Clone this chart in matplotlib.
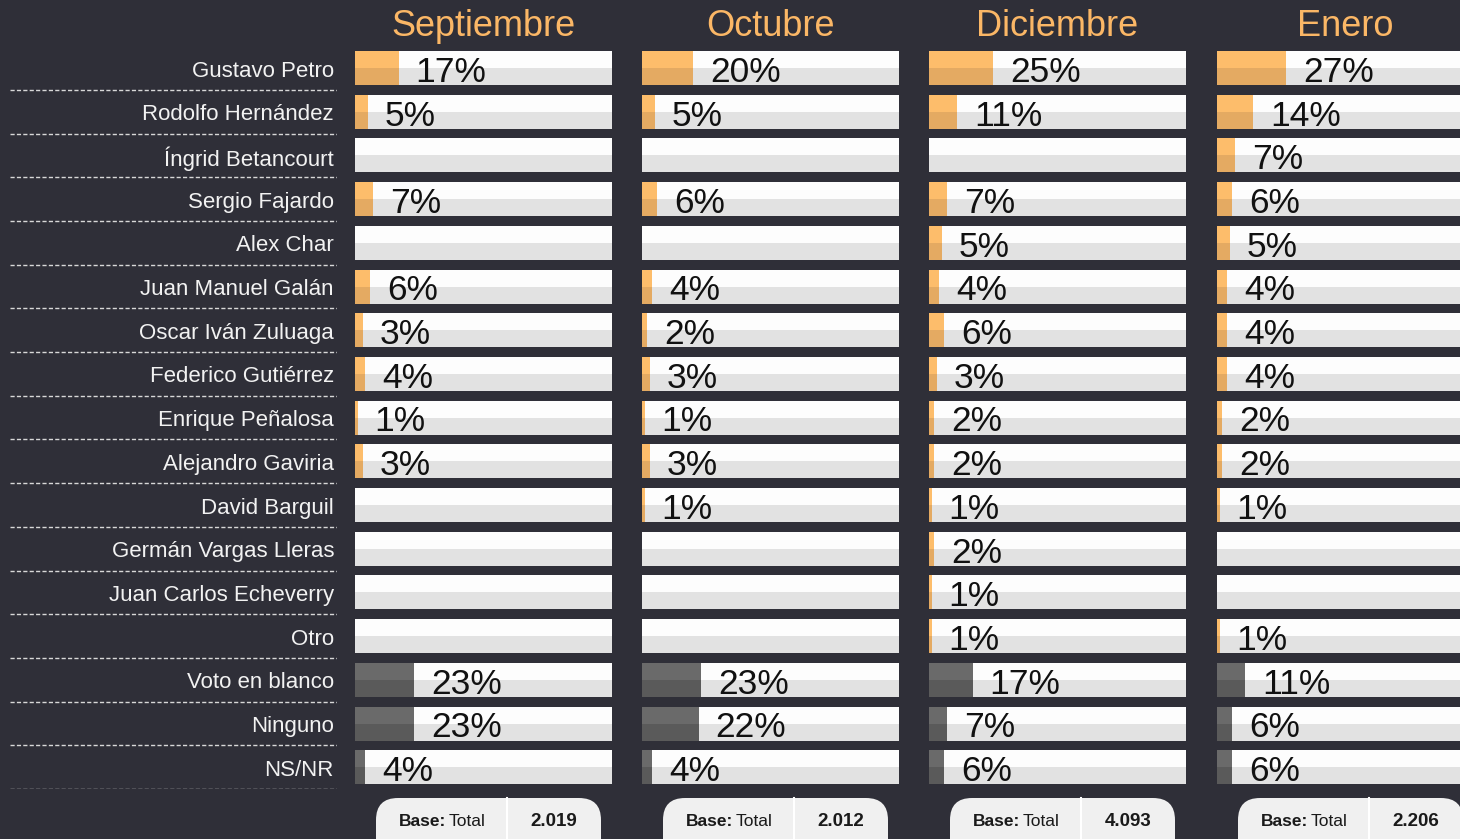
import numpy as np
import matplotlib
matplotlib.use('Agg')
import matplotlib.pyplot as plt
from matplotlib.patches import FancyBboxPatch
from matplotlib import font_manager as fm

names = ['Gustavo Petro', 'Rodolfo Hernández', 'Íngrid Betancourt', 'Sergio Fajardo',
         'Alex Char', 'Juan Manuel Galán', 'Oscar Iván Zuluaga', 'Federico Gutiérrez',
         'Enrique Peñalosa', 'Alejandro Gaviria', 'David Barguil', 'Germán Vargas Lleras',
         'Juan Carlos Echeverry', 'Otro', 'Voto en blanco', 'Ninguno', 'NS/NR']
months = ['Septiembre', 'Octubre', 'Diciembre', 'Enero']
nan = np.nan
septiembre = [17, 5, nan, 7, nan, 6, 3, 4, 1, 3, nan, nan, nan, nan, 23, 23, 4]
octubre = [20, 5, nan, 6, nan, 4, 2, 3, 1, 3, 1, nan, nan, nan, 23, 22, 4]
diciembre = [25, 11, nan, 7, 5, 4, 6, 3, 2, 2, 1, 2, 1, 1, 17, 7, 6]
enero = [27, 14, 7, 6, 5, 4, 4, 4, 2, 2, 1, nan, nan, 1, 11, 6, 6]
bases = ['2.019', '2.012', '4.093', '2.206']
gray_rows = ['Voto en blanco', 'Ninguno', 'NS/NR']

series = [septiembre, octubre, diciembre, enero]

BG = '#2f2f38'
ORANGE_T, ORANGE_B = '#fdbd6b', '#e4aa62'
GRAY_T, GRAY_B = '#6a6a6a', '#5a5a5a'
BAR_T, BAR_B = '#fdfdfd', '#e2e2e2'
TITLE_C = '#fbb766'

avail = {f.name for f in fm.fontManager.ttflist}
narrow = 'Liberation Sans Narrow' if 'Liberation Sans Narrow' in avail else 'Liberation Sans'
sans = 'Liberation Sans'
label_fs = 28 if narrow == 'Liberation Sans Narrow' else 25.5

W, H = 1460, 839
fig = plt.figure(figsize=(W / 100, H / 100), dpi=100)
fig.patch.set_facecolor(BG)

n = len(names)
row0, pitch = 68.0, 43.7
ytop = row0 - pitch / 2
ybot = row0 + (n - 1) * pitch + pitch / 2
hbar = 34 / pitch
rows = np.arange(n)

def fx(px):
    return px / W

ax_h = (ybot - ytop) / H
ax_b = 1 - ybot / H

# names column
axn = fig.add_axes([fx(10), ax_b, fx(327), ax_h])
axn.set_xlim(0, 1)
axn.set_ylim(n - 0.5, -0.5)
axn.axis('off')
for i, nm in enumerate(names):
    axn.text(324 / 327, i + 0.07, nm, ha='right', va='center', fontsize=16,
             color='#f2f2f2', family=sans)
    axn.plot([0, 1], [i + 0.5, i + 0.5], color='#d8d8d8', lw=1.0,
             dashes=(3, 1.6), solid_capstyle='butt')

panel_left = [355, 642, 929, 1217]
pw = 257
is_gray = np.array([nm in gray_rows for nm in names])

for k, (month, vals) in enumerate(zip(months, series)):
    ax = fig.add_axes([fx(panel_left[k]), ax_b, fx(pw), ax_h])
    ax.set_xlim(0, 100)
    ax.set_ylim(n - 0.5, -0.5)
    ax.axis('off')
    ax.patch.set_alpha(0)
    # background bars
    ax.barh(rows, 100, height=hbar, color=BAR_B, lw=0)
    ax.barh(rows - hbar / 4, 100, height=hbar / 2, color=BAR_T, lw=0)
    v = np.array(vals, dtype=float)
    m = ~np.isnan(v)
    cb = np.where(is_gray, GRAY_B, ORANGE_B)
    ct = np.where(is_gray, GRAY_T, ORANGE_T)
    ax.barh(rows[m], v[m], height=hbar, color=cb[m], lw=0)
    ax.barh(rows[m] - hbar / 4, v[m], height=hbar / 2, color=ct[m], lw=0)
    for i in rows[m]:
        ax.text(v[i] + 6.6, i + 0.1, f'{int(v[i])}%', ha='left', va='center',
                fontsize=label_fs, color='#111111', family=narrow)
    ax.text(0.5, 1 + (ytop - 26) / (ybot - ytop), month, transform=ax.transAxes,
            ha='center', va='center', fontsize=26, color=TITLE_C, family=sans)

# base pills overlay
axo = fig.add_axes([0, 0, 1, 1])
axo.set_xlim(0, W)
axo.set_ylim(H, 0)
axo.axis('off')
axo.patch.set_alpha(0)
for k, b in enumerate(bases):
    x0 = panel_left[k] + 21
    pill = FancyBboxPatch((x0, 798), 225, 70,
                          boxstyle='round,pad=0,rounding_size=22',
                          fc='#f0f0f0', ec='none')
    axo.add_patch(pill)
    axo.plot([x0 + 131, x0 + 131], [798, 839], color='#ffffff', lw=1.5)
    axo.text(x0 + 70, 821, 'Base:', ha='right', va='center', fontsize=12.5,
             fontweight='bold', color='#1a1a1a', family=sans)
    axo.text(x0 + 73, 821, 'Total', ha='left', va='center', fontsize=12.5,
             color='#1a1a1a', family=sans)
    axo.text(x0 + 178, 821, b, ha='center', va='center', fontsize=13.5,
             fontweight='bold', color='#1a1a1a', family=sans)

fig.savefig('out.png', dpi=100, facecolor=BG)
